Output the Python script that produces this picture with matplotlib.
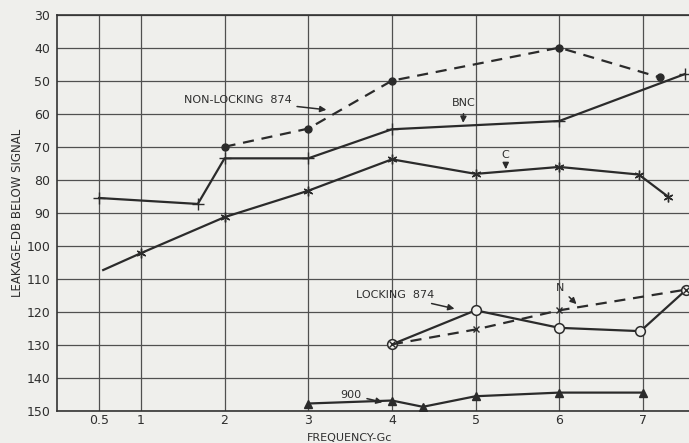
import numpy as np
import matplotlib
matplotlib.use("Agg")
import matplotlib.pyplot as plt

# values (frequency in Gc, leakage in dB below signal)
nl_x = [2, 3, 4, 6, 7.2]
nl_y = [70, 64.5, 50, 40, 49]

bnc_x = [0.5, 1.68, 2, 3, 4, 6, 7.5]
bnc_y = [85.5, 87.3, 73.5, 73.5, 64.7, 62.2, 48]

c_x = [0.55, 1, 2, 3, 4, 5, 6, 6.95, 7.3]
c_y = [107.3, 102.2, 91.3, 83.3, 73.8, 78.2, 76.1, 78.4, 85.1]

lock_x = [4, 5, 6, 6.97, 7.52]
lock_y = [129.8, 119.5, 124.8, 125.8, 113.2]

n_x = [4, 5, 6, 7.52]
n_y = [129.8, 125.3, 119.5, 113.2]

g900_x = [3, 4, 4.37, 5, 6, 7]
g900_y = [147.7, 146.8, 148.7, 145.5, 144.4, 144.4]

xticks = [0.5, 1, 2, 3, 4, 5, 6, 7]
xtick_labels = ["0.5", "1", "2", "3", "4", "5", "6", "7"]
yticks = list(range(30, 151, 10))

bg = "#efefec"
ink = "#2b2b2b"

fig = plt.figure(figsize=(6.89, 4.43), dpi=100, facecolor=bg)
ax = fig.add_axes([0.083, 0.072, 0.917, 0.895], facecolor=bg)

ax.set_xlim(0, 7.55)
ax.set_ylim(150, 30)
ax.set_xticks(xticks)
ax.set_xticklabels(xtick_labels)
ax.set_yticks(yticks)
ax.grid(True, color="#505050", lw=0.9)
ax.tick_params(length=0, labelsize=9, colors="#2e2e2e", pad=5)
ax.tick_params(axis="x", pad=2)
for s in ["left", "bottom", "top"]:
    ax.spines[s].set_color("#333333")
    ax.spines[s].set_linewidth(1.2)
ax.spines["right"].set_visible(False)

ax.plot(nl_x, nl_y, color=ink, lw=1.6, ls=(0, (5, 3.5)), marker="o", ms=5, zorder=3)
ax.plot(bnc_x, bnc_y, color=ink, lw=1.6, marker="+", ms=9, mew=1.0, zorder=3)
ax.plot(c_x, c_y, color=ink, lw=1.6, zorder=3)
ax.plot(c_x[1:], c_y[1:], ls="none", color=ink, marker=(6, 2, 0), ms=7, mew=1.0, zorder=3)
ax.plot(lock_x, lock_y, color=ink, lw=1.6, marker="o", ms=7, mfc=bg, mew=1.1, zorder=3)
ax.plot(n_x, n_y, color=ink, lw=1.6, ls=(0, (5, 3.5)), zorder=3)
ax.plot(n_x[1:3], n_y[1:3], ls="none", color=ink, marker="x", ms=5, mew=1.0, zorder=4)
ax.plot([lock_x[0], lock_x[-1]], [lock_y[0], lock_y[-1]], ls="none", color=ink,
        marker="x", ms=4, mew=1.0, zorder=4)
ax.plot(g900_x, g900_y, color=ink, lw=1.6, marker="^", ms=6, zorder=3)

txt = dict(fontsize=8, color="#2e2e2e")
arw = dict(arrowstyle="-|>", color=ink, lw=1.1, mutation_scale=9)
ax.annotate("NON-LOCKING  874", xy=(3.25, 58.9), xytext=(2.8, 55.8),
            ha="right", va="center", arrowprops=arw, **txt)
ax.annotate("BNC", xy=(4.85, 63.6), xytext=(4.86, 56.8),
            ha="center", va="center", arrowprops=arw, **txt)
ax.annotate("C", xy=(5.36, 77.6), xytext=(5.36, 72.6),
            ha="center", va="center", arrowprops=arw, **txt)
ax.annotate("LOCKING  874", xy=(4.78, 119.2), xytext=(4.5, 114.9),
            ha="right", va="center", arrowprops=arw, **txt)
ax.annotate("N", xy=(6.23, 118.2), xytext=(6.01, 112.8),
            ha="center", va="center", arrowprops=arw, **txt)
ax.annotate("900", xy=(3.92, 147.5), xytext=(3.51, 145.1),
            ha="center", va="center", arrowprops=arw, **txt)

fig.text(0.508, 0.011, "FREQUENCY-Gc", ha="center", va="center", fontsize=8, color="#2e2e2e")
fig.text(0.025, 0.52, "LEAKAGE-DB BELOW SIGNAL", ha="center", va="center",
         rotation=90, fontsize=8.5, color="#2e2e2e")

fig.savefig("out.png", dpi=100, facecolor=bg)
